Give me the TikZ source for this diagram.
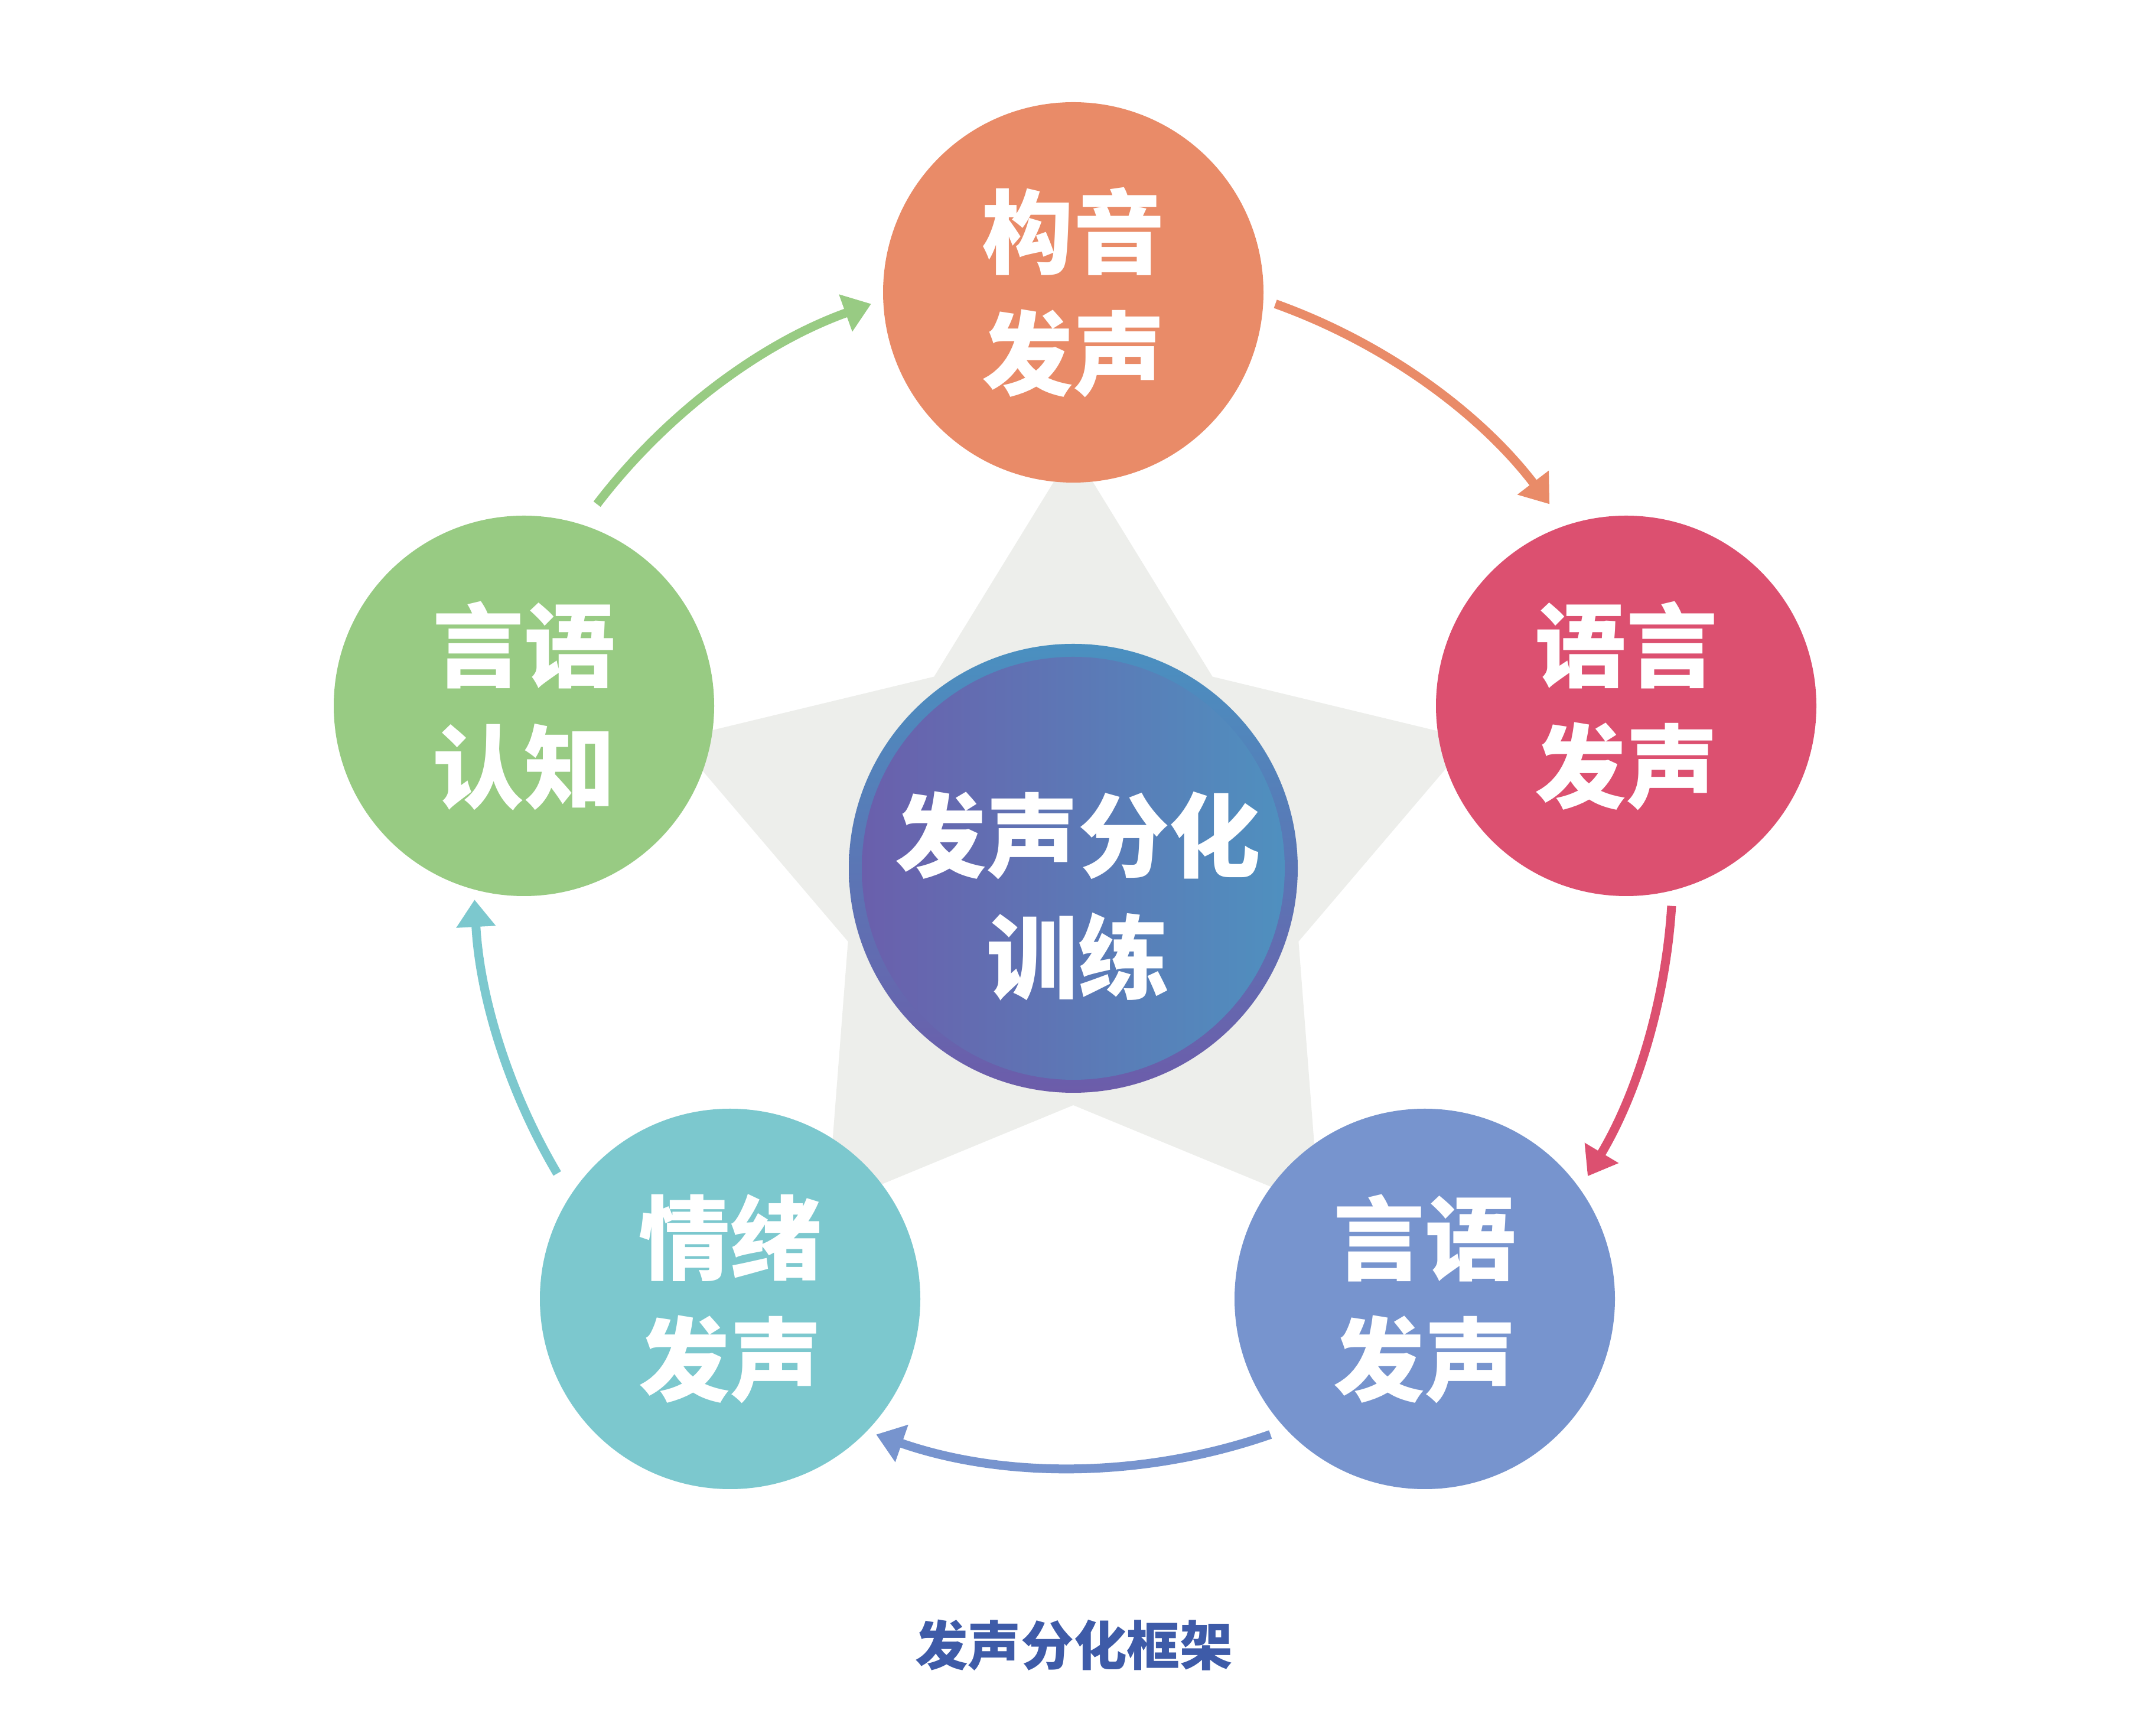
\documentclass[tikz,border=0pt]{standalone}
\usepackage{fontspec}
\newfontfamily\cjk{Noto Sans CJK SC}
\usetikzlibrary{arrows.meta,calc}
\definecolor{cOrange}{HTML}{E98B68}
\definecolor{cRed}{HTML}{DC5070}
\definecolor{cBlue}{HTML}{7794CE}
\definecolor{cTeal}{HTML}{7CC8CE}
\definecolor{cGreen}{HTML}{98CB83}
\definecolor{starGray}{HTML}{EDEEEB}
\definecolor{ringTop}{HTML}{4A90C0}
\definecolor{ringBot}{HTML}{6C5CAA}
\definecolor{innerL}{HTML}{6A5FAC}
\definecolor{innerR}{HTML}{4F90BF}
\definecolor{capBlue}{HTML}{3E5BA8}
\begin{document}
\begin{tikzpicture}[x=1cm,y=1cm,
  bubble/.style={circle,minimum size=6.44cm,inner sep=0pt,text=white,align=center,
    font=\cjk\bfseries\fontsize{44}{58.5}\selectfont},
  flow/.style={line width=0.15cm,-{Triangle[length=0.46cm,width=0.64cm]}}]
\useasboundingbox (0,0) rectangle (36.5,29);
\fill[white] (0,0) rectangle (36.5,29);
\coordinate (C) at (18.17,14.30);
% star
\fill[starGray] ($(C)+(90:7.08)$) -- ($(C)+(126:4.01)$) -- ($(C)+(162:7.08)$) -- ($(C)+(198:4.01)$)
  -- ($(C)+(234:7.08)$) -- ($(C)+(270:4.01)$) -- ($(C)+(306:7.08)$) -- ($(C)+(342:4.01)$)
  -- ($(C)+(18:7.08)$) -- ($(C)+(54:4.01)$) -- cycle;
% arrows
\coordinate (g1) at ($(C)+(142.6:10.15)$);
\coordinate (o1) at ($(C)+(70.3:10.15)$);
\coordinate (r1) at ($(C)+(-3.6:10.15)$);
\coordinate (b1) at ($(C)+(289.2:10.15)$);
\coordinate (t1) at ($(C)+(210.6:10.15)$);
\draw[flow,cGreen] (g1) arc[start angle=142.6,end angle=109.7,radius=10.15];
\draw[flow,cOrange] (o1) arc[start angle=70.3,end angle=37.4,radius=10.15];
\draw[flow,cRed] (r1) arc[start angle=-3.6,end angle=-30.9,radius=10.15];
\draw[flow,cBlue] (b1) arc[start angle=289.2,end angle=250.8,radius=10.15];
\draw[flow,cTeal] (t1) arc[start angle=210.6,end angle=183,radius=10.15];
% outer circles
\node[bubble,fill=cOrange] (gouyin) at (18.17,24.05) {构音\\发声};
\node[bubble,fill=cRed] (yuyan) at (27.53,17.05) {语言\\发声};
\node[bubble,fill=cBlue] (yanyu) at (24.12,7.01) {言语\\发声};
\node[bubble,fill=cTeal] (qingxu) at (12.36,7.01) {情绪\\发声};
\node[bubble,fill=cGreen] (renzhi) at (8.87,17.05) {言语\\认知};
% center circle
\shade[top color=ringTop,bottom color=ringBot] (C) circle (3.80);
\node[circle,minimum size=7.16cm,inner sep=0pt,left color=innerL,right color=innerR] (center) at (C) {};
\node[text=white,align=center,font=\cjk\bfseries\fontsize{44}{58.5}\selectfont] (ctitle) at ($(C)+(0.08,-0.47)$) {发声分化\\训练};
% caption
\node[text=capBlue,font=\cjk\bfseries\fontsize{25.5}{30}\selectfont] (caption) at (18.18,1.15) {发声分化框架};
\end{tikzpicture}
\end{document}
